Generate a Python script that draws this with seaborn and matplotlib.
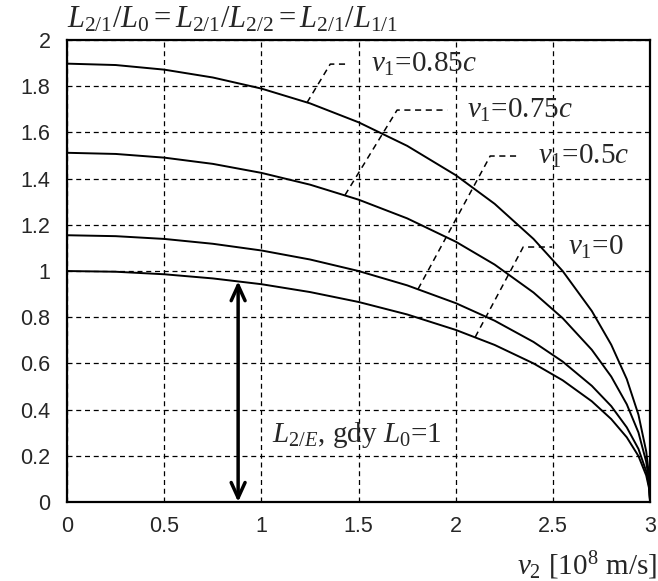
import matplotlib
matplotlib.use("Agg")
import matplotlib.pyplot as plt
import seaborn as sns
import pandas as pd

# speed v2 in 10^8 m/s and the length ratio
v2 = [0, 0.25, 0.5, 0.75, 1.0, 1.25, 1.5, 1.75, 2.0, 2.2, 2.4, 2.55, 2.7, 2.8, 2.88, 2.94, 2.98, 2.995, 3.0]
ratio_v0 = [1.000, 0.997, 0.986, 0.968, 0.943, 0.909, 0.866, 0.812, 0.745, 0.680, 0.600, 0.527, 0.436, 0.359, 0.280, 0.199, 0.115, 0.058, 0.0]
ratio_v05 = [1.155, 1.151, 1.139, 1.118, 1.089, 1.050, 1.000, 0.938, 0.861, 0.785, 0.693, 0.608, 0.503, 0.415, 0.323, 0.230, 0.133, 0.067, 0.0]
ratio_v075 = [1.512, 1.507, 1.491, 1.464, 1.425, 1.374, 1.309, 1.228, 1.127, 1.028, 0.907, 0.796, 0.659, 0.543, 0.423, 0.301, 0.174, 0.087, 0.0]
ratio_v085 = [1.898, 1.892, 1.872, 1.838, 1.790, 1.726, 1.644, 1.542, 1.415, 1.291, 1.139, 1.000, 0.827, 0.681, 0.532, 0.378, 0.219, 0.110, 0.0]

series_names = ["v1=0", "v1=0.5c", "v1=0.75c", "v1=0.85c"]
series_values = [ratio_v0, ratio_v05, ratio_v075, ratio_v085]
series_labels = [r"$v_1$=0", r"$v_1$=0.5$c$", r"$v_1$=0.75$c$", r"$v_1$=0.85$c$"]

# leader lines: start on curve, elbow, end of horizontal stub (data units)
leader_start = [(2.10, 0.714), (1.806, 0.922), (1.43, 1.329), (1.235, 1.730)]
leader_elbow = [(2.347, 1.104), (2.177, 1.498), (1.698, 1.697), (1.354, 1.896)]
leader_end_x = [2.496, 2.321, 1.956, 1.446]
label_x = [2.575, 2.425, 2.06, 1.565]

x_ticks = [0, 0.5, 1, 1.5, 2, 2.5, 3]
y_ticks = [0, 0.2, 0.4, 0.6, 0.8, 1, 1.2, 1.4, 1.6, 1.8, 2]

arrow_x = 0.88
arrow_top = 0.956

sns.set_style("white")
plt.rcParams["font.family"] = ["Liberation Sans", "DejaVu Sans"]
plt.rcParams["mathtext.fontset"] = "custom"
plt.rcParams["mathtext.rm"] = "Liberation Serif"
plt.rcParams["mathtext.it"] = "Liberation Serif:italic"
plt.rcParams["mathtext.bf"] = "Liberation Serif:bold"
serif = ["Liberation Serif", "DejaVu Serif"]

rows = []
for name, vals in zip(series_names, series_values):
    for x, y in zip(v2, vals):
        rows.append({"v2": x, "L": y, "series": name})
df = pd.DataFrame(rows)

fig = plt.figure(figsize=(6.58, 5.81), dpi=100)
ax = fig.add_axes([0.102, 0.136, 0.886, 0.795])

sns.lineplot(data=df, x="v2", y="L", hue="series", palette=["black"] * 4,
             linewidth=1.4, legend=False, ax=ax, sort=False)

ax.set_xlim(0, 3)
ax.set_ylim(0, 2)
ax.set_xticks(x_ticks)
ax.set_yticks(y_ticks)
ax.set_xticklabels([f"{t:g}" for t in x_ticks], fontsize=15.5)
ax.set_yticklabels([f"{t:g}" for t in y_ticks], fontsize=15.5)
ax.tick_params(axis="both", length=0)
ax.tick_params(axis="y", pad=12)
ax.tick_params(axis="x", pad=10)
ax.grid(True, color="black", linestyle=(0, (4, 3)), linewidth=0.9)
for sp in ax.spines.values():
    sp.set_color("black")
    sp.set_linewidth(1.6)
ax.set_xlabel("")
ax.set_ylabel("")

# leader lines and curve labels
for (sx, sy), (ex, ey), hx, lx, lab in zip(leader_start, leader_elbow, leader_end_x, label_x, series_labels):
    ax.plot([sx, ex, hx], [sy, ey, ey], color="black", linestyle=(0, (4, 3)), linewidth=1.1)
    ax.text(lx, ey, lab, fontsize=21, va="center", ha="left", family=serif)

# double-headed arrow for L2/E
ax.annotate("", xy=(arrow_x, arrow_top), xytext=(arrow_x, 0.0),
            arrowprops=dict(arrowstyle="<->,head_length=1.1,head_width=0.5",
                            color="black", linewidth=2.5, shrinkA=0, shrinkB=0))
ax.text(1.055, 0.29, r"$L_{2/E}$, gdy $L_0$=1", fontsize=21, va="center", ha="left",
        family=serif)

fig.text(0.102, 0.952, r"$L_{2/1}/L_0 = L_{2/1}/L_{2/2} = L_{2/1}/L_{1/1}$",
         fontsize=22, ha="left", va="baseline", family=serif)
fig.text(0.998, 0.011, r"$v_2$ [10$^8$ m/s]", fontsize=21, ha="right", va="baseline",
         family=serif)

fig.savefig("out.png", dpi=100)
